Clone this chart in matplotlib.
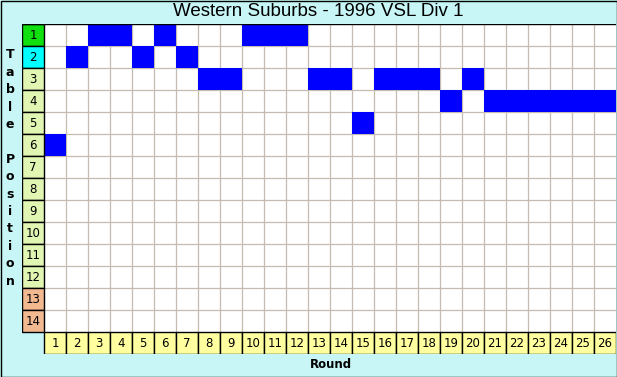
import matplotlib
matplotlib.use("Agg")
import matplotlib.pyplot as plt
import numpy as np

# Western Suburbs - 1996 VSL Div 1: table position after each round
rounds = list(range(1, 27))
positions = [6, 2, 1, 1, 2, 1, 2, 3, 3, 1, 1, 1, 3, 3, 5, 3, 3, 3, 4, 3,
             4, 4, 4, 4, 4, 4]
n_teams = 14
pos_labels = [str(p) for p in range(1, n_teams + 1)]
round_labels = [str(r) for r in rounds]
pos_colors = (["#10e010", "#00ffff"] + ["#e2f6b4"] * 10 + ["#f2b890"] * 2)

BG = "#c8f6f6"
GRID = "#c4bcb0"
BLUE = "#0000ff"
W, H = 617, 377

fig = plt.figure(figsize=(W / 100, H / 100), dpi=100)
fig.patch.set_facecolor(BG)

# grid area: 27 columns (label column + 26 rounds), 15 rows (14 positions + round row)
ax = fig.add_axes([22 / W, 23 / H, 594 / W, 330 / H])
ax.set_xlim(-0.5, 26.5)
ax.set_ylim(15.5, 0.5)
ax.axis("off")
ax.patch.set_alpha(0)

# white playing field with grey cell lines
ax.add_patch(plt.Rectangle((0.5, 0.5), 26, n_teams, facecolor="white",
                           edgecolor="none", zorder=0))
ax.vlines(np.arange(1.5, 26.5), 0.5, n_teams + 0.5, color=GRID, lw=0.9, zorder=1)
ax.hlines(np.arange(1.5, n_teams + 0.5), 0.5, 26.5, color=GRID, lw=0.9, zorder=1)

# position markers
ax.bar(rounds, 1, bottom=np.array(positions) - 0.5, width=1, color=BLUE,
       edgecolor="none", zorder=2)

# row label column
ys = np.arange(1, n_teams + 1)
ax.bar([0] * n_teams, 1, bottom=ys - 0.5, width=1, color=pos_colors,
       edgecolor="black", lw=1, zorder=3)
for y, lab in zip(ys, pos_labels):
    ax.text(0, y, lab, ha="center", va="center", fontsize=8.5, zorder=4)

# round label row
ax.bar(rounds, 1, bottom=n_teams + 0.5, width=1, color="#ffffa0",
       edgecolor="black", lw=1, zorder=3)
for x, lab in zip(rounds, round_labels):
    ax.text(x, n_teams + 1, lab, ha="center", va="center", fontsize=8.5, zorder=4)

# frame line along top of grid
ax.hlines(0.5, -0.5, 26.5, color="black", lw=1, zorder=5)

# title and axis labels
fig.text(318 / W, 1 - 12 / H, "Western Suburbs - 1996 VSL Div 1",
         ha="center", va="center", fontsize=13.5, family="Liberation Sans")
fig.text(331 / W, 1 - 365 / H, "Round", ha="center", va="center",
         fontsize=8.5, fontweight="bold")
for i, ch in enumerate("Table Position"):
    fig.text(10 / W, 1 - (55 + 17.4 * i) / H, ch, ha="center", va="center",
             fontsize=9, fontweight="bold")

# outer border
fig.add_artist(plt.Rectangle((0.5 / W, 0.5 / H), 1 - 1 / W, 1 - 1 / H,
                             transform=fig.transFigure, fill=False,
                             edgecolor="black", lw=1))

fig.savefig("out.png", dpi=100, facecolor=BG)
